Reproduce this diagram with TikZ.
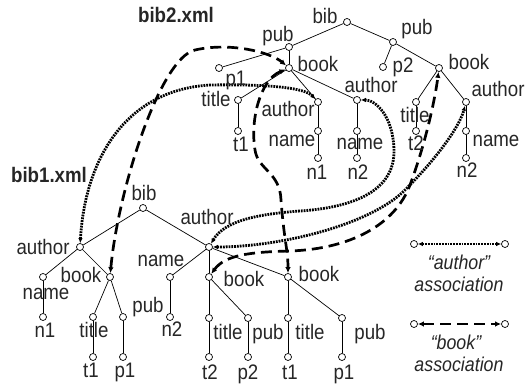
\documentclass[tikz,border=0pt]{standalone}
\usepackage{fontspec}
\setmainfont{Liberation Sans}[FakeStretch=0.89]
\usetikzlibrary{arrows.meta}
\tikzset{
  pt/.style={circle,draw=black,fill=white,line width=0.7pt,minimum size=7pt,inner sep=0pt},
  edge/.style={line width=0.7pt,draw=black},
  lbl/.style={inner sep=0pt,anchor=base,text=black!85,font=\fontsize{21}{25}\selectfont},
  ttl/.style={lbl,font=\fontsize{21}{25}\selectfont\bfseries},
  leg/.style={lbl,font=\fontsize{20}{24}\selectfont\itshape},
  authassoc/.style={line width=2.8pt,dash pattern=on 1.8pt off 1.0pt,
     {Latex[length=5pt,width=4.5pt]}-{Latex[length=5pt,width=4.5pt]}},
  bookassoc/.style={line width=2.7pt,dash pattern=on 11pt off 6pt,
     {Latex[length=6pt,width=5.5pt]}-{Latex[length=6pt,width=5.5pt]}}
}
\begin{document}
\begin{tikzpicture}[x=1pt,y=-1pt]
\useasboundingbox (0,0) rectangle (528,387);
% ---------- bib2.xml tree ----------
\node[pt] (r2) at (347,22) {};
\node[pt] (pubA) at (289,47) {};
\node[pt] (pubB) at (393,42) {};
\node[pt] (p1A) at (219,68) {};
\node[pt] (bookA) at (289,68) {};
\node[pt] (p2B) at (383,67) {};
\node[pt] (bookB) at (439,68) {};
\node[pt] (titleA) at (238,100) {};
\node[pt] (authA) at (318,102) {};
\node[pt] (authA2) at (357,100) {};
\node[pt] (titleB) at (416,102) {};
\node[pt] (authB) at (466,102) {};
\node[pt] (t1A) at (238,131) {};
\node[pt] (nameA) at (318,131) {};
\node[pt] (n1A) at (318,158) {};
\node[pt] (nameA2) at (357,131) {};
\node[pt] (n2A2) at (357,158) {};
\node[pt] (t2B) at (416,131) {};
\node[pt] (nameB) at (466,131) {};
\node[pt] (n2B) at (466,158) {};
% ---------- bib1.xml tree ----------
\node[pt] (r1) at (143,208) {};
\node[pt] (auL) at (80,247) {};
\node[pt] (auR) at (209,247) {};
\node[pt] (naL) at (43,277) {};
\node[pt] (boL) at (110,277) {};
\node[pt] (n1L) at (43,317) {};
\node[pt] (tiL) at (93,317) {};
\node[pt] (puL) at (123,317) {};
\node[pt] (t1L) at (93,357) {};
\node[pt] (p1L) at (123,357) {};
\node[pt] (naR) at (170,277) {};
\node[pt] (n2R) at (170,317) {};
\node[pt] (boM) at (209,277) {};
\node[pt] (boR) at (288,277) {};
\node[pt] (tiM) at (209,318) {};
\node[pt] (puM) at (248,318) {};
\node[pt] (t2M) at (209,357) {};
\node[pt] (p2M) at (248,357) {};
\node[pt] (tiR) at (288,318) {};
\node[pt] (puR) at (342,318) {};
\node[pt] (t1R) at (288,357) {};
\node[pt] (p1R) at (342,357) {};
% ---------- legend ----------
\node[pt] (la1) at (414,244) {};
\node[pt] (la2) at (505,244) {};
\node[pt] (lb1) at (414,324) {};
\node[pt] (lb2) at (505,324) {};
% ---------- tree edges ----------
\foreach \a/\b in {r2/pubA,r2/pubB,pubA/p1A,pubA/bookA,pubB/p2B,pubB/bookB,
  bookA/titleA,bookA/authA,bookA/authA2,bookB/titleB,bookB/authB,
  titleA/t1A,authA/nameA,nameA/n1A,authA2/nameA2,nameA2/n2A2,
  titleB/t2B,authB/nameB,nameB/n2B,
  r1/auL,r1/auR,auL/naL,auL/boL,naL/n1L,boL/tiL,boL/puL,tiL/t1L,puL/p1L,
  auR/naR,auR/boM,auR/boR,naR/n2R,boM/tiM,boM/puM,tiM/t2M,puM/p2M,
  boR/tiR,boR/puR,tiR/t1R,puR/p1R}
  \draw[edge] (\a) -- (\b);
% ---------- associations ----------
\draw[authassoc] (auL) .. controls (85,160) and (125,90) .. (210,85)
   .. controls (270,84) and (305,88) .. (authA);
\draw[bookassoc] (boL) .. controls (118,190) and (160,58) .. (195,50)
   .. controls (230,42) and (270,52) .. (bookA);
\draw[bookassoc] (bookA) .. controls (260,80) and (250,120) .. (255,150)
   .. controls (258,170) and (280,172) .. (281,200)
   .. controls (284,240) and (288,250) .. (boR);
\draw[bookassoc] (boM) .. controls (225,255) and (250,252) .. (290,251)
   .. controls (350,249) and (395,225) .. (410,185)
   .. controls (425,145) and (435,100) .. (bookB);
\draw[authassoc] (auR) .. controls (225,220) and (260,214) .. (300,211)
   .. controls (345,208) and (395,195) .. (394,150)
   .. controls (393,115) and (375,100) .. (authA2);
\draw[authassoc] (auR) .. controls (280,247) and (370,225) .. (405,190)
   .. controls (440,155) and (460,125) .. (authB);
\draw[authassoc] (la1) -- (la2);
\draw[bookassoc] (lb1) -- (lb2);
% ---------- labels bib2 ----------
\node[ttl] at (176,23) {bib2.xml};
\node[lbl] at (325,24) {bib};
\node[lbl] at (278,42) {pub};
\node[lbl] at (417,35) {pub};
\node[lbl] at (236,86) {p1};
\node[lbl] at (318,72) {book};
\node[lbl] at (403,73) {p2};
\node[lbl] at (469,70) {book};
\node[lbl] at (216,107) {title};
\node[lbl] at (288,117) {author};
\node[lbl] at (371,93) {author};
\node[lbl] at (415,123) {title};
\node[lbl] at (416,151) {t2};
\node[lbl] at (498,97) {author};
\node[lbl] at (496,147) {name};
\node[lbl] at (467,178) {n2};
\node[lbl] at (241,152) {t1};
\node[lbl] at (292,147) {name};
\node[lbl] at (317,180) {n1};
\node[lbl] at (360,150) {name};
\node[lbl] at (358,180) {n2};
% ---------- labels bib1 ----------
\node[ttl] at (49,183) {bib1.xml};
\node[lbl] at (144,201) {bib};
\node[lbl] at (43,255) {author};
\node[lbl] at (207,225) {author};
\node[lbl] at (161,267) {name};
\node[lbl] at (81,283) {book};
\node[lbl] at (46,300) {name};
\node[lbl] at (45,338) {n1};
\node[lbl] at (94,338) {title};
\node[lbl] at (148,313) {pub};
\node[lbl] at (91,378) {t1};
\node[lbl] at (125,378) {p1};
\node[lbl] at (172,337) {n2};
\node[lbl] at (244,287) {book};
\node[lbl] at (319,282) {book};
\node[lbl] at (228,340) {title};
\node[lbl] at (268,340) {pub};
\node[lbl] at (310,340) {title};
\node[lbl] at (370,340) {pub};
\node[lbl] at (210,380) {t2};
\node[lbl] at (248,380) {p2};
\node[lbl] at (290,380) {t1};
\node[lbl] at (344,380) {p1};
% ---------- legend labels ----------
\node[leg] at (459,270) {“author”};
\node[leg] at (459,292) {association};
\node[leg] at (456,350) {“book”};
\node[leg] at (459,372) {association};
\end{tikzpicture}
\end{document}
